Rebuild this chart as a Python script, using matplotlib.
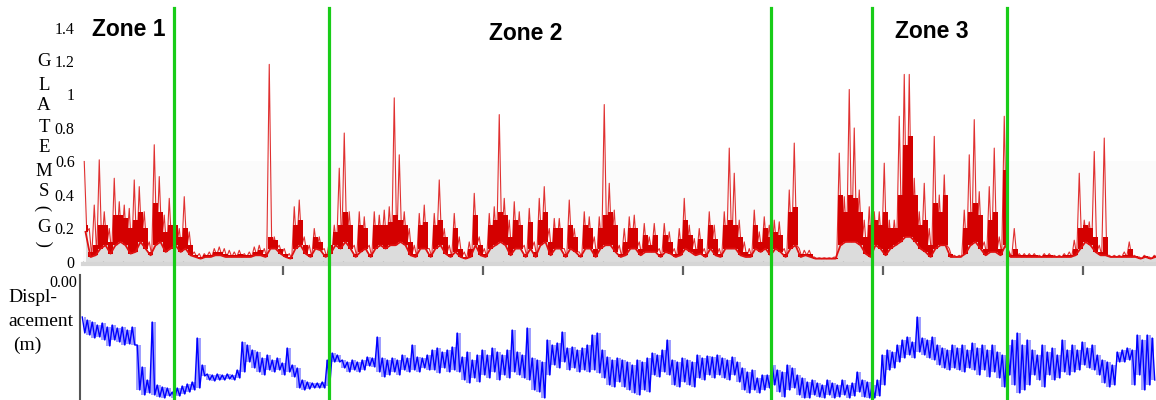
import numpy as np
import matplotlib
matplotlib.use('Agg')
import matplotlib.pyplot as plt
from matplotlib.lines import Line2D
from matplotlib.transforms import blended_transform_factory

# GLATEMS acceleration (G), per 5-sample bin: spike peak, top of the dense part, trough
gems_hi = [0.60,0.20,0.34,0.61,0.30,0.20,0.50,0.36,0.34,0.32,
           0.49,0.45,0.30,0.12,0.70,0.51,0.28,0.38,0.28,0.20,
           0.39,0.18,0.06,0.05,0.05,0.06,0.08,0.09,0.08,0.07,
           0.06,0.07,0.05,0.06,0.09,0.10,0.08,1.18,0.15,0.10,
           0.08,0.05,0.33,0.37,0.15,0.10,0.20,0.15,0.08,0.12,
           0.22,0.56,0.77,0.30,0.10,0.30,0.27,0.10,0.30,0.28,
           0.31,0.33,0.98,0.64,0.30,0.20,0.10,0.29,0.34,0.08,
           0.29,0.49,0.20,0.10,0.29,0.15,0.06,0.12,0.41,0.15,
           0.08,0.29,0.33,0.88,0.38,0.25,0.36,0.30,0.10,0.32,
           0.12,0.38,0.45,0.20,0.26,0.26,0.08,0.37,0.20,0.06,
           0.30,0.27,0.15,0.27,0.94,0.47,0.31,0.10,0.20,0.27,
           0.28,0.12,0.23,0.15,0.23,0.08,0.23,0.18,0.08,0.20,
           0.38,0.22,0.14,0.20,0.08,0.30,0.22,0.08,0.30,0.68,
           0.53,0.25,0.12,0.08,0.31,0.18,0.27,0.22,0.25,0.24,
           0.08,0.43,0.71,0.08,0.07,0.07,0.03,0.025,0.025,0.025,
           0.03,0.65,0.39,1.03,0.80,0.43,0.25,0.33,0.30,0.30,
           0.59,0.25,0.25,0.87,1.12,1.12,0.50,0.30,0.47,0.20,
           0.75,0.40,0.52,0.08,0.04,0.04,0.31,0.64,0.85,0.42,
           0.12,0.45,0.68,0.15,0.87,0.06,0.20,0.05,0.05,0.05,
           0.05,0.04,0.05,0.05,0.04,0.04,0.05,0.06,0.13,0.53,
           0.25,0.24,0.66,0.10,0.74,0.04,0.04,0.04,0.06,0.12,
           0.04,0.03,0.04,0.03,0.04]
gems_body = [0.22,0.06,0.10,0.22,0.22,0.12,0.28,0.28,0.26,0.20,
             0.25,0.30,0.20,0.06,0.35,0.30,0.18,0.22,0.22,0.15,
             0.20,0.10,0.04,0.03,0.04,0.04,0.06,0.06,0.05,0.04,
             0.04,0.05,0.04,0.04,0.06,0.07,0.05,0.15,0.13,0.08,
             0.05,0.03,0.22,0.25,0.10,0.05,0.15,0.12,0.05,0.10,
             0.18,0.22,0.30,0.22,0.05,0.22,0.20,0.05,0.22,0.22,
             0.22,0.24,0.28,0.25,0.22,0.12,0.05,0.22,0.24,0.05,
             0.22,0.25,0.15,0.05,0.20,0.08,0.03,0.08,0.28,0.10,
             0.05,0.22,0.25,0.30,0.28,0.15,0.25,0.22,0.05,0.24,
             0.06,0.25,0.30,0.12,0.20,0.20,0.05,0.22,0.15,0.04,
             0.22,0.20,0.08,0.20,0.28,0.30,0.22,0.05,0.12,0.20,
             0.20,0.08,0.16,0.10,0.16,0.05,0.16,0.12,0.05,0.14,
             0.25,0.16,0.08,0.14,0.05,0.22,0.14,0.05,0.22,0.25,
             0.22,0.15,0.06,0.05,0.22,0.12,0.20,0.15,0.18,0.16,
             0.05,0.30,0.33,0.05,0.05,0.05,0.025,0.02,0.02,0.02,
             0.025,0.40,0.30,0.40,0.38,0.30,0.15,0.22,0.25,0.22,
             0.30,0.20,0.20,0.40,0.70,0.75,0.40,0.22,0.25,0.10,
             0.35,0.30,0.40,0.05,0.03,0.03,0.20,0.30,0.35,0.28,
             0.08,0.25,0.30,0.08,0.55,0.04,0.08,0.04,0.04,0.04,
             0.04,0.035,0.04,0.04,0.035,0.035,0.04,0.04,0.08,0.20,
             0.22,0.20,0.15,0.06,0.15,0.035,0.035,0.035,0.04,0.08,
             0.035,0.025,0.035,0.025,0.035]
gems_lo = [0.18,0.03,0.04,0.08,0.10,0.05,0.10,0.12,0.10,0.05,
           0.06,0.12,0.08,0.04,0.10,0.12,0.06,0.08,0.10,0.06,
           0.08,0.04,0.03,0.02,0.03,0.03,0.04,0.04,0.03,0.03,
           0.03,0.03,0.03,0.03,0.04,0.04,0.03,0.08,0.08,0.05,
           0.03,0.02,0.08,0.10,0.05,0.03,0.08,0.07,0.03,0.05,
           0.10,0.08,0.12,0.08,0.03,0.06,0.08,0.03,0.08,0.10,
           0.08,0.10,0.10,0.12,0.10,0.04,0.03,0.08,0.08,0.03,
           0.08,0.10,0.05,0.03,0.06,0.03,0.02,0.03,0.10,0.04,
           0.03,0.08,0.10,0.12,0.10,0.04,0.08,0.08,0.03,0.08,
           0.03,0.10,0.12,0.04,0.08,0.08,0.03,0.08,0.06,0.03,
           0.08,0.08,0.03,0.08,0.10,0.10,0.06,0.03,0.04,0.08,
           0.08,0.04,0.06,0.06,0.06,0.03,0.06,0.05,0.03,0.04,
           0.08,0.06,0.04,0.05,0.03,0.08,0.04,0.03,0.08,0.08,
           0.08,0.04,0.03,0.03,0.08,0.06,0.08,0.04,0.08,0.06,
           0.03,0.08,0.10,0.03,0.04,0.03,0.02,0.02,0.02,0.02,
           0.02,0.10,0.12,0.12,0.12,0.10,0.05,0.03,0.10,0.08,
           0.04,0.08,0.10,0.12,0.15,0.15,0.12,0.08,0.06,0.03,
           0.08,0.10,0.10,0.03,0.03,0.03,0.05,0.10,0.12,0.08,
           0.04,0.06,0.06,0.04,0.10,0.03,0.03,0.03,0.03,0.03,
           0.03,0.03,0.03,0.03,0.03,0.03,0.03,0.03,0.04,0.08,
           0.12,0.10,0.06,0.04,0.04,0.03,0.03,0.03,0.03,0.03,
           0.03,0.02,0.03,0.02,0.03]

# displacement (mm), per 5-sample bin: upper and lower values
disp_top_mm = [-42,-45,-47,-50,-48,-52,-50,-53,-52,-55,
               -52,-70,-92,-105,-47,-110,-112,-113,-117,-113,
               -111,-109,-107,-63,-90,-99,-100,-99,-100,-99,
               -100,-95,-67,-70,-75,-77,-83,-80,-85,-83,
               -88,-73,-90,-93,-105,-107,-108,-108,-107,-85,
               -78,-80,-85,-87,-85,-87,-85,-82,-83,-62,
               -83,-85,-83,-85,-80,-83,-70,-82,-83,-80,
               -75,-73,-77,-75,-72,-58,-82,-77,-85,-80,
               -75,-80,-73,-77,-80,-75,-55,-77,-80,-53,
               -83,-85,-87,-65,-70,-68,-57,-73,-72,-75,
               -73,-70,-60,-58,-75,-82,-85,-83,-85,-87,
               -90,-85,-87,-83,-78,-80,-75,-65,-85,-87,
               -83,-85,-87,-80,-83,-81,-82,-80,-83,-85,
               -82,-87,-93,-97,-95,-103,-100,-100,-90,-95,
               -97,-90,-93,-100,-103,-107,-105,-108,-110,-105,
               -108,-110,-105,-110,-108,-97,-105,-107,-110,-105,
               -80,-75,-77,-70,-65,-62,-67,-42,-63,-65,
               -62,-70,-73,-75,-70,-73,-70,-75,-68,-73,
               -70,-75,-70,-77,-80,-70,-65,-58,-70,-65,
               -75,-80,-70,-77,-73,-80,-65,-75,-70,-75,
               -67,-73,-70,-80,-85,-87,-90,-77,-75,-73,
               -75,-60,-65,-60,-63]
disp_bot_mm = [-58,-60,-63,-62,-65,-71,-65,-67,-70,-69,
               -70,-115,-120,-118,-120,-122,-123,-121,-123,-121,
               -119,-117,-115,-113,-101,-105,-106,-105,-105,-104,
               -105,-103,-97,-87,-93,-97,-100,-95,-97,-95,
               -100,-97,-102,-113,-115,-114,-113,-113,-113,-111,
               -87,-87,-93,-97,-95,-97,-95,-91,-92,-97,
               -102,-100,-97,-100,-95,-97,-95,-97,-93,-95,
               -95,-98,-93,-97,-95,-97,-105,-108,-103,-107,
               -100,-103,-97,-105,-100,-103,-97,-100,-103,-105,
               -115,-117,-123,-100,-90,-93,-87,-95,-93,-97,
               -95,-97,-95,-98,-103,-110,-112,-107,-112,-115,
               -118,-120,-115,-117,-100,-102,-97,-100,-110,-112,
               -107,-110,-112,-103,-105,-100,-103,-100,-103,-105,
               -100,-107,-115,-118,-115,-118,-115,-113,-110,-117,
               -122,-115,-113,-120,-123,-123,-120,-122,-123,-120,
               -123,-122,-120,-123,-121,-117,-122,-123,-123,-121,
               -110,-95,-93,-87,-83,-80,-83,-77,-80,-83,
               -85,-90,-93,-95,-93,-95,-97,-93,-95,-100,
               -95,-102,-97,-103,-112,-100,-110,-118,-115,-110,
               -100,-105,-112,-100,-105,-103,-97,-100,-97,-95,
               -90,-93,-95,-100,-108,-112,-110,-87,-87,-85,
               -110,-100,-115,-110,-105]

zone_edges = [91, 246, 688, 789, 924]
zone_names = ['Zone 1', 'Zone 2', 'Zone 3']
zone_label_x = [46, 443, 849]
gems_yticks = [0, 0.2, 0.4, 0.6, 0.8, 1.0, 1.2, 1.4]
gems_yticklabels = ['0', '0.2', '0.4', '0.6', '0.8', '1', '1.2', '1.4']

W, H = 1156, 400
fig = plt.figure(figsize=(W / 100, H / 100), dpi=100)

def fx(px):
    return px / W

def fy(py):
    return 1 - py / H

def zigzag(t0, a, b):
    # alternate the two per-bin values inside each 5-sample bin
    t = np.empty(2 * len(a))
    t[0::2] = t0 + 1.25
    t[1::2] = t0 + 3.75
    v = np.empty(2 * len(a))
    v[0::2] = a
    v[1::2] = b
    return t, v

serif = 'Liberation Serif'

# ---- top panel: GLATEMS
ax = fig.add_axes([fx(83), fy(264), fx(1156) - fx(83), fy(27.5) - fy(264)])
hi = np.array(gems_hi)
body = np.array(gems_body)
lo = np.array(gems_lo)
tb = np.arange(len(hi)) * 5.0
ax.axhspan(0, 0.6, color='#fbfbfb', lw=0, zorder=0)
ax.fill_between(tb + 2.5, 0, lo, step='mid', color='#dcdcdc', lw=0, zorder=1)
t, g = zigzag(tb, hi, lo)
ax.plot(t, g, color='#e03030', lw=0.8, zorder=2)
ax.fill_between(tb + 2.5, lo, body, step='mid', color='#d40000', lw=0, zorder=3)
ax.plot(tb + 2.5, lo, color='#e01010', lw=1.3, zorder=3)
ax.set_xlim(0, 1073)
ax.set_ylim(-0.012, 1.4)
for s in ['top', 'right', 'left']:
    ax.spines[s].set_visible(False)
ax.spines['bottom'].set_color('#d6d6d6')
ax.spines['bottom'].set_linewidth(3)
ax.set_xticks([200, 400, 600, 800, 1000])
ax.set_xticklabels([])
ax.set_xticks(np.arange(0, 1073, 20), minor=True)
ax.tick_params(axis='x', which='major', direction='out', length=8, width=1.6, color='#606060')
ax.tick_params(axis='x', which='minor', direction='in', length=2, width=0.8, color='#b0b0b0')
ax.set_yticks(gems_yticks)
ax.set_yticklabels(gems_yticklabels, fontfamily=serif, fontsize=11.5)
ax.tick_params(axis='y', length=0, pad=6)

# ---- bottom panel: displacement
axb = fig.add_axes([fx(80), 0, fx(1156) - fx(80), fy(275)])
top = np.array(disp_top_mm) / 1000.0
bot = np.array(disp_bot_mm) / 1000.0
tb2 = np.arange(len(top)) * 5.0 - 2
axb.fill_between(tb2 + 2.5, bot, top, step='mid', color='#2a2aff', alpha=0.45, lw=0)
t2, d = zigzag(tb2, top, bot)
axb.plot(t2, d, color='#0000ff', lw=1.0)
axb.set_xlim(-3, 1073)
axb.set_ylim(-0.125, 0)
for s in ['top', 'right', 'bottom']:
    axb.spines[s].set_visible(False)
axb.spines['left'].set_color('#555555')
axb.spines['left'].set_linewidth(1.5)
axb.set_xticks([])
axb.set_yticks([0])
axb.set_yticklabels(['0.00'], fontfamily=serif, fontsize=11.5, va='top')
axb.tick_params(axis='y', length=0, pad=2)

# ---- zone boundaries across both panels
tr = blended_transform_factory(ax.transData, fig.transFigure)
for z in zone_edges:
    fig.add_artist(Line2D([z, z], [0, fy(8)], transform=tr, color='#18cc18', lw=2.3, zorder=5))
for name, xz, yz in zip(zone_names, zone_label_x, [30, 34, 32]):
    fig.text(xz, fy(yz), name, transform=tr, ha='center', va='center',
             fontfamily='Liberation Sans', fontweight='bold', fontsize=16.5)

# ---- stacked y label for top panel
for ch, yy in zip('GLATEMS', [61, 85, 106, 127, 148, 171, 192]):
    fig.text(fx(44), fy(yy), ch, ha='center', va='center', fontfamily=serif, fontsize=13.5)
fig.text(fx(44), fy(208), ')', ha='center', va='center', rotation=90, fontfamily=serif, fontsize=13.5)
fig.text(fx(44), fy(227), 'G', ha='center', va='center', fontfamily=serif, fontsize=13.5)
fig.text(fx(44), fy(244), '(', ha='center', va='center', rotation=90, fontfamily=serif, fontsize=13.5)

# ---- y label for bottom panel
fig.text(fx(8), fy(298), 'Displ-', ha='left', va='center', fontfamily=serif, fontsize=14)
fig.text(fx(8), fy(321), 'acement', ha='left', va='center', fontfamily=serif, fontsize=14)
fig.text(fx(13), fy(345), '(m)', ha='left', va='center', fontfamily=serif, fontsize=14)

fig.savefig('out.png', dpi=100)
